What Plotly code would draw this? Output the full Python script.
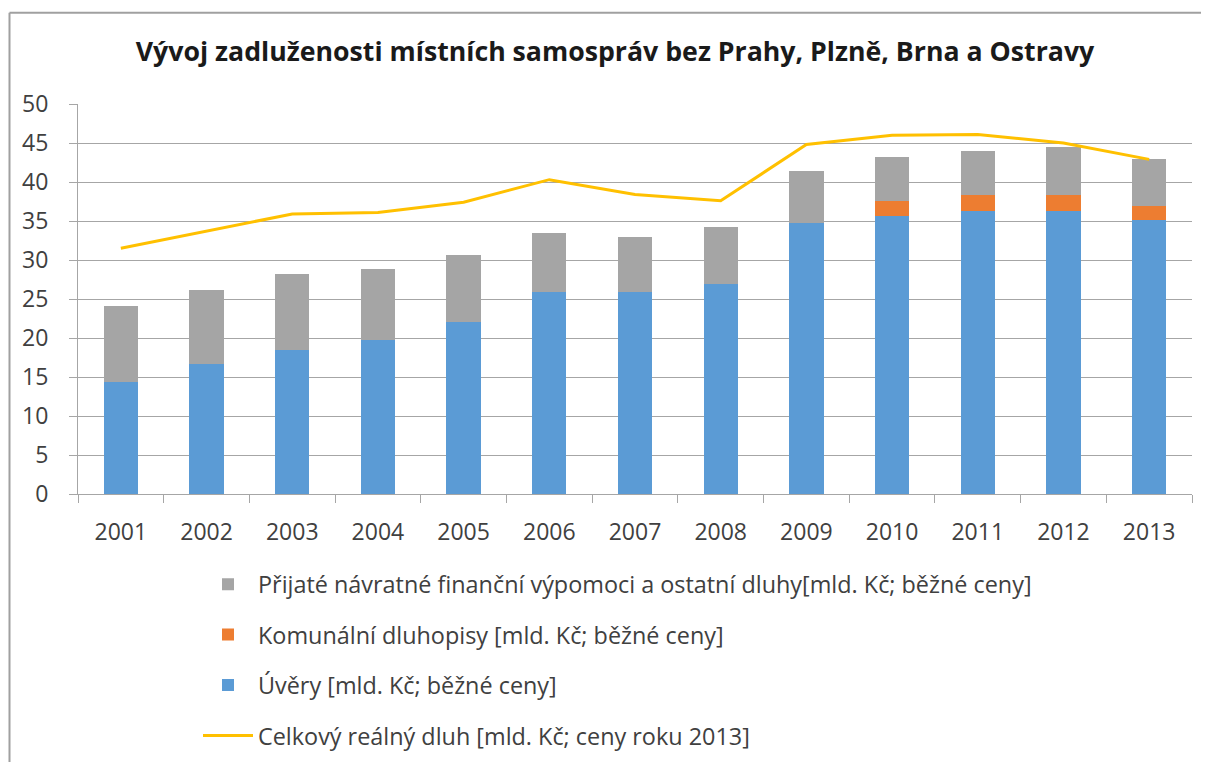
import plotly.graph_objects as go

years = ["2001", "2002", "2003", "2004", "2005", "2006", "2007",
         "2008", "2009", "2010", "2011", "2012", "2013"]

uvery = [14.4, 16.7, 18.5, 19.7, 22.0, 25.9, 25.9, 26.9, 34.8, 35.6, 36.3, 36.3, 35.1]
dluhopisy = [0, 0, 0, 0, 0, 0, 0, 0, 0, 2.0, 2.05, 2.05, 1.8]
vypomoci = [9.65, 9.4, 9.65, 9.2, 8.7, 7.6, 7.1, 7.35, 6.6, 5.6, 5.6, 6.1, 6.05]
realny_dluh = [31.5, 33.7, 35.9, 36.1, 37.4, 40.3, 38.4, 37.6, 44.8, 46.0, 46.1, 45.0, 42.9]

name_uvery = "Úvěry [mld. Kč; běžné ceny]"
name_dluhopisy = "Komunální dluhopisy [mld. Kč; běžné ceny]"
name_vypomoci = "Přijaté návratné finanční výpomoci a ostatní dluhy[mld. Kč; běžné ceny]"
name_realny = "Celkový reálný dluh [mld. Kč; ceny roku 2013]"

title_text = "Vývoj zadluženosti místních samospráv bez Prahy, Plzně, Brna a Ostravy"

BLUE = "#5B9BD5"
ORANGE = "#ED7D31"
GRAY = "#A5A5A5"
GOLD = "#FFC000"
GRID = "#A6A6A6"
TEXT = "#404040"
FONT = "Open Sans"

fig = go.Figure()
fig.add_trace(go.Bar(x=years, y=uvery, name=name_uvery, marker_color=BLUE,
                     marker_line_width=0, legendrank=3, legendgroup="c"))
fig.add_trace(go.Bar(x=years, y=dluhopisy, name=name_dluhopisy, marker_color=ORANGE,
                     marker_line_width=0, legendrank=2, legendgroup="b"))
fig.add_trace(go.Bar(x=years, y=vypomoci, name=name_vypomoci, marker_color=GRAY,
                     marker_line_width=0, legendrank=1, legendgroup="a"))
fig.add_trace(go.Scatter(x=years, y=realny_dluh, name=name_realny, mode="lines",
                         line=dict(color=GOLD, width=3), legendrank=4, legendgroup="d"))

# page has an 8px body margin; layout below is expressed in figure pixels
OFF = 8
W, H = 1209, 762
L = 78 - OFF
T = 104 - OFF
R = W - (1192 - OFF)
B = H - (497 - OFF)
pw, ph = W - L - R, H - T - B


def px_x(sx):
    return (sx - OFF - L) / pw


def px_y(sy):
    return (H - B - (sy - OFF)) / ph


fig.update_layout(
    width=W, height=H,
    margin=dict(l=L, r=R, t=T, b=B),
    paper_bgcolor="white", plot_bgcolor="white",
    barmode="stack", bargap=0.6,
    font=dict(family=FONT, color=TEXT, size=23),
    title=dict(text=title_text, x=(615 - OFF) / W, xanchor="center",
               y=1 - (52 - OFF) / H, yanchor="middle",
               font=dict(family=FONT, size=26.7, color="#1a1a1a", weight="bold")),
    showlegend=True,
    legend=dict(orientation="v", x=px_x(198), xanchor="left", y=px_y(566), yanchor="top",
                traceorder="grouped", tracegroupgap=17, itemwidth=50,
                font=dict(family=FONT, size=23.4, color=TEXT), bgcolor="rgba(0,0,0,0)"),
    shapes=[
        dict(type="line", xref="paper", yref="paper", x0=px_x(9.5), x1=1.2,
             y0=px_y(12), y1=px_y(12), line=dict(color="#A0A0A0", width=2)),
        dict(type="line", xref="paper", yref="paper", x0=px_x(9.5), x1=px_x(9.5),
             y0=px_y(12), y1=-1.0, line=dict(color="#A0A0A0", width=2)),
    ],
)

fig.update_xaxes(showgrid=False, showline=True, linecolor=GRID, linewidth=1,
                 ticks="outside", tickson="boundaries", ticklen=8, tickcolor=GRID,
                 tickfont=dict(family=FONT, size=23, color=TEXT), ticklabelstandoff=17)
fig.update_yaxes(range=[0, 50], dtick=5, showgrid=True, gridcolor=GRID, gridwidth=1,
                 showline=True, linecolor=GRID, linewidth=1, zeroline=False,
                 ticks="outside", ticklen=8, tickcolor=GRID,
                 tickfont=dict(family=FONT, size=23, color=TEXT), ticklabelstandoff=16)

fig.write_html("out.html")
